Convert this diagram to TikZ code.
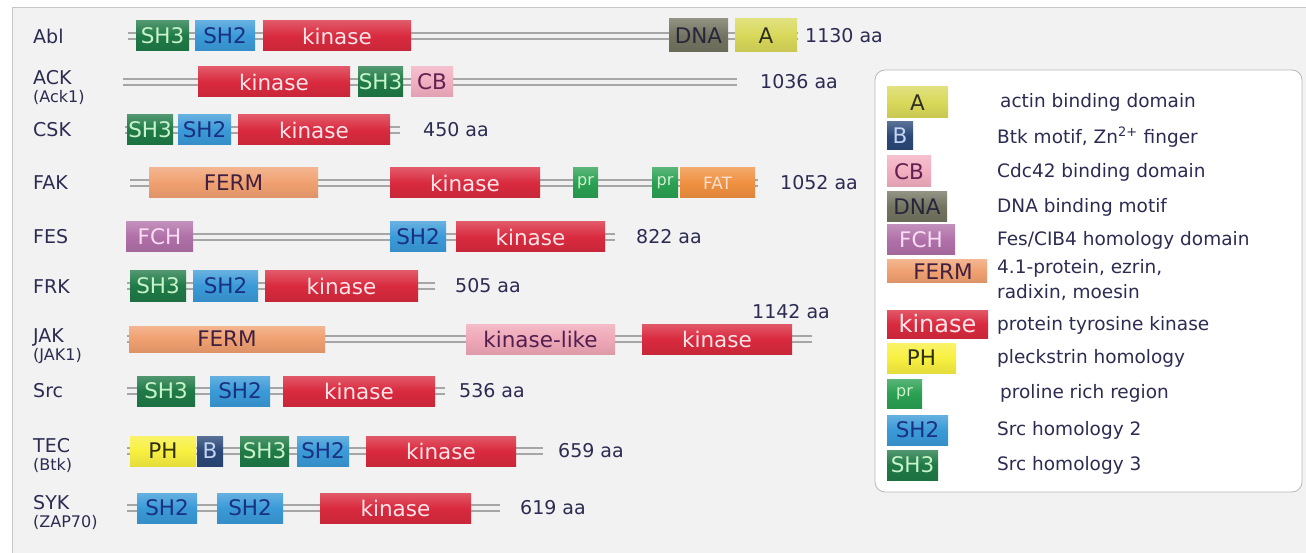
\documentclass[tikz,border=0pt]{standalone}
\usepackage{fontspec}
\setmainfont{DejaVu Sans}
\definecolor{bgc}{HTML}{F2F2F2}
\definecolor{cTxt}{HTML}{2C2C52}
\definecolor{cSH3}{HTML}{1F7A47}\definecolor{tSH3}{HTML}{C8F2C8}
\definecolor{cSH2}{HTML}{3A9AD8}\definecolor{tSH2}{HTML}{1A3080}
\definecolor{cKin}{HTML}{D92A3E}\definecolor{tKin}{HTML}{FFE4EA}
\definecolor{cDNA}{HTML}{737360}\definecolor{tDNA}{HTML}{26263C}
\definecolor{cA}{HTML}{D8D85A}\definecolor{tA}{HTML}{303020}
\definecolor{cCB}{HTML}{F2AEC0}\definecolor{tCB}{HTML}{602050}
\definecolor{cFERM}{HTML}{F0A070}\definecolor{tFERM}{HTML}{402040}
\definecolor{cPr}{HTML}{2AA052}\definecolor{tPr}{HTML}{D0F2D0}
\definecolor{cFAT}{HTML}{F09040}\definecolor{tFAT}{HTML}{FCE0D0}
\definecolor{cFCH}{HTML}{B070A8}\definecolor{tFCH}{HTML}{F8DCF2}
\definecolor{cKL}{HTML}{F0A8B8}\definecolor{tKL}{HTML}{502050}
\definecolor{cPH}{HTML}{F8F040}\definecolor{tPH}{HTML}{303010}
\definecolor{cB}{HTML}{2A4878}\definecolor{tB}{HTML}{C4D4F2}
\tikzset{
  dom/.style={rectangle, inner sep=0pt, minimum height=30pt, font=\fontsize{21.5}{23}\selectfont},
  grad/.style={top color=#1!78!white, bottom color=#1!92!black, middle color=#1},
  dsh3/.style={dom, grad=cSH3, text=tSH3, minimum width=#1},
  dsh2/.style={dom, grad=cSH2, text=tSH2, minimum width=#1},
  dkin/.style={dom, grad=cKin, text=tKin, minimum width=#1},
  ddna/.style={dom, grad=cDNA, text=tDNA, minimum width=#1},
  dact/.style={dom, grad=cA, text=tA, minimum width=#1},
  dcb/.style={dom, grad=cCB, text=tCB, minimum width=#1},
  dferm/.style={dom, grad=cFERM, text=tFERM, minimum width=#1},
  dpr/.style={dom, grad=cPr, text=tPr, minimum width=#1, font=\fontsize{16}{17}\selectfont},
  dfat/.style={dom, grad=cFAT, text=tFAT, minimum width=#1, font=\fontsize{17}{18}\selectfont},
  dfch/.style={dom, grad=cFCH, text=tFCH, minimum width=#1},
  dkl/.style={dom, grad=cKL, text=tKL, minimum width=#1},
  dph/.style={dom, grad=cPH, text=tPH, minimum width=#1},
  dbt/.style={dom, grad=cB, text=tB, minimum width=#1},
  backbone/.style={draw=gray!70, line width=2.4pt, double=gray!12, double distance=3.2pt},
  lbl/.style={anchor=west, inner sep=0pt, text=cTxt, font=\fontsize{19}{21}\selectfont},
  sublbl/.style={lbl, font=\fontsize{16}{18}\selectfont},
  aalbl/.style={lbl},
  legtxt/.style={lbl, font=\fontsize{18.5}{20}\selectfont},
}
\begin{document}
\begin{tikzpicture}[x=1pt,y=-1pt]
\path[use as bounding box, fill=white] (0,0) rectangle (1306,553);
\fill[bgc] (12,7) rectangle (1306,553);
\draw[gray!45, line width=0.8pt] (1306,7) -- (12,7) -- (12,553);

% ---------- row labels ----------
\node[lbl] (l-abl) at (33,36) {Abl};
\node[lbl] (l-ack) at (33,78) {ACK};
\node[sublbl] (l-ack1) at (33,97) {(Ack1)};
\node[lbl] (l-csk) at (33,130) {CSK};
\node[lbl] (l-fak) at (33,183) {FAK};
\node[lbl] (l-fes) at (33,237) {FES};
\node[lbl] (l-frk) at (33,287) {FRK};
\node[lbl] (l-jak) at (33,337) {JAK};
\node[sublbl] (l-jak1) at (33,356) {(JAK1)};
\node[lbl] (l-src) at (33,391) {Src};
\node[lbl] (l-tec) at (33,446) {TEC};
\node[sublbl] (l-btk) at (33,465) {(Btk)};
\node[lbl] (l-syk) at (33,503) {SYK};
\node[sublbl] (l-zap) at (33,522) {(ZAP70)};

% ---------- backbones ----------
\coordinate (abl-s) at (128,36); \coordinate (abl-e) at (798,36);
\coordinate (ack-s) at (123,82); \coordinate (ack-e) at (737,82);
\coordinate (csk-s) at (125,130); \coordinate (csk-e) at (400,130);
\coordinate (fak-s) at (130,183); \coordinate (fak-e) at (758,183);
\coordinate (fes-s) at (130,237); \coordinate (fes-e) at (615,237);
\coordinate (frk-s) at (127,286); \coordinate (frk-e) at (435,286);
\coordinate (jak-s) at (127,339); \coordinate (jak-e) at (812,339);
\coordinate (src-s) at (127,391); \coordinate (src-e) at (445,391);
\coordinate (tec-s) at (127,451); \coordinate (tec-e) at (543,451);
\coordinate (syk-s) at (127,508); \coordinate (syk-e) at (500,508);
\foreach \r in {abl,ack,csk,fak,fes,frk,jak,src,tec,syk}
  \draw[backbone] (\r-s) -- (\r-e);

% ---------- Abl ----------
\node[dsh3=53pt] (abl-sh3) at (162.5,36) {SH3};
\node[dsh2=60pt] (abl-sh2) at (225,36) {SH2};
\node[dkin=148pt] (abl-kin) at (337,36) {kinase};
\node[ddna=59pt, minimum height=33pt] (abl-dna) at (698.5,35.5) {DNA};
\node[dact=62pt, minimum height=33pt] (abl-a) at (766,35.5) {A};
\node[aalbl] (abl-aa) at (805,36) {1130 aa};

% ---------- ACK ----------
\node[dkin=152pt] (ack-kin) at (274,82) {kinase};
\node[dsh3=45pt] (ack-sh3) at (380.5,82) {SH3};
\node[dcb=42pt] (ack-cb) at (432,82) {CB};
\node[aalbl] (ack-aa) at (760,82) {1036 aa};

% ---------- CSK ----------
\node[dsh3=46pt] (csk-sh3) at (150,130) {SH3};
\node[dsh2=53pt] (csk-sh2) at (204.5,130) {SH2};
\node[dkin=152pt] (csk-kin) at (314,130) {kinase};
\node[aalbl] (csk-aa) at (423,130) {450 aa};

% ---------- FAK ----------
\node[dferm=169pt] (fak-ferm) at (233.5,183) {FERM};
\node[dkin=150pt] (fak-kin) at (465,183) {kinase};
\node[dpr=25pt] (fak-pr1) at (585.5,183) {pr};
\node[dpr=26pt] (fak-pr2) at (665,183) {pr};
\node[dfat=75pt] (fak-fat) at (717.5,183) {FAT};
\node[aalbl] (fak-aa) at (780,183) {1052 aa};

% ---------- FES ----------
\node[dfch=67pt] (fes-fch) at (159.5,237) {FCH};
\node[dsh2=56pt] (fes-sh2) at (418,237) {SH2};
\node[dkin=149pt] (fes-kin) at (530.5,237) {kinase};
\node[aalbl] (fes-aa) at (636,237) {822 aa};

% ---------- FRK ----------
\node[dsh3=56pt] (frk-sh3) at (158,286) {SH3};
\node[dsh2=65pt] (frk-sh2) at (225.5,286) {SH2};
\node[dkin=153pt] (frk-kin) at (341.5,286) {kinase};
\node[aalbl] (frk-aa) at (455,286) {505 aa};

% ---------- JAK ----------
\node[dferm=196pt, minimum height=26pt] (jak-ferm) at (227,339) {FERM};
\node[dkl=149pt] (jak-kl) at (540.5,339) {kinase-like};
\node[dkin=150pt] (jak-kin) at (717,339) {kinase};
\node[aalbl] (jak-aa) at (752,312) {1142 aa};

% ---------- Src ----------
\node[dsh3=58pt] (src-sh3) at (166,391) {SH3};
\node[dsh2=60pt] (src-sh2) at (240,391) {SH2};
\node[dkin=152pt] (src-kin) at (359,391) {kinase};
\node[aalbl] (src-aa) at (459,391) {536 aa};

% ---------- TEC ----------
\node[dph=66pt] (tec-ph) at (163,451) {PH};
\node[dbt=26pt] (tec-b) at (210,451) {B};
\node[dsh3=49pt] (tec-sh3) at (264.5,451) {SH3};
\node[dsh2=52pt] (tec-sh2) at (323,451) {SH2};
\node[dkin=150pt] (tec-kin) at (441,451) {kinase};
\node[aalbl] (tec-aa) at (558,451) {659 aa};

% ---------- SYK ----------
\node[dsh2=60pt] (syk-sh2a) at (167,508) {SH2};
\node[dsh2=66pt] (syk-sh2b) at (250,508) {SH2};
\node[dkin=151pt] (syk-kin) at (395.5,508) {kinase};
\node[aalbl] (syk-aa) at (520,508) {619 aa};

% ---------- legend ----------
\node[draw=gray!55, fill=white, rounded corners=10pt, line width=0.8pt,
      minimum width=427pt, minimum height=422pt, inner sep=0pt] (legend) at (1088.5,281) {};
\node[dact=61pt, minimum height=31pt] (k-a) at (917.5,102.5) {A};
\node[dbt=26pt, minimum height=28pt] (k-b) at (900,136) {B};
\node[dcb=44pt, minimum height=31pt] (k-cb) at (909,171.5) {CB};
\node[ddna=60pt] (k-dna) at (917,207) {DNA};
\node[dfch=68pt] (k-fch) at (921,240) {FCH};
\node[dferm=100pt, minimum height=23pt] (k-ferm) at (937,271.5) {\hspace*{12pt}FERM};
\node[dkin=101pt, minimum height=28pt, font=\fontsize{24}{26}\selectfont] (k-kin) at (937.5,324) {kinase};
\node[dph=69pt] (k-ph) at (921.5,358) {PH};
\node[dpr=35pt, minimum height=29pt] (k-pr) at (904.5,393.5) {pr};
\node[dsh2=61pt] (k-sh2) at (917.5,430) {SH2};
\node[dsh3=51pt] (k-sh3) at (912.5,465) {SH3};

\node[legtxt] (t-a) at (1000,102) {actin binding domain};
\node[legtxt] (t-b) at (997,137) {Btk motif, Zn\textsuperscript{2+} finger};
\node[legtxt] (t-cb) at (997,172) {Cdc42 binding domain};
\node[legtxt] (t-dna) at (997,207) {DNA binding motif};
\node[legtxt] (t-fch) at (997,240) {Fes/CIB4 homology domain};
\node[legtxt] (t-ferm1) at (997,268) {4.1-protein, ezrin,};
\node[legtxt] (t-ferm2) at (997,293) {radixin, moesin};
\node[legtxt] (t-kin) at (997,325) {protein tyrosine kinase};
\node[legtxt] (t-ph) at (997,358) {pleckstrin homology};
\node[legtxt] (t-pr) at (1000,393) {proline rich region};
\node[legtxt] (t-sh2) at (997,430) {Src homology 2};
\node[legtxt] (t-sh3) at (997,465) {Src homology 3};
\end{tikzpicture}
\end{document}
